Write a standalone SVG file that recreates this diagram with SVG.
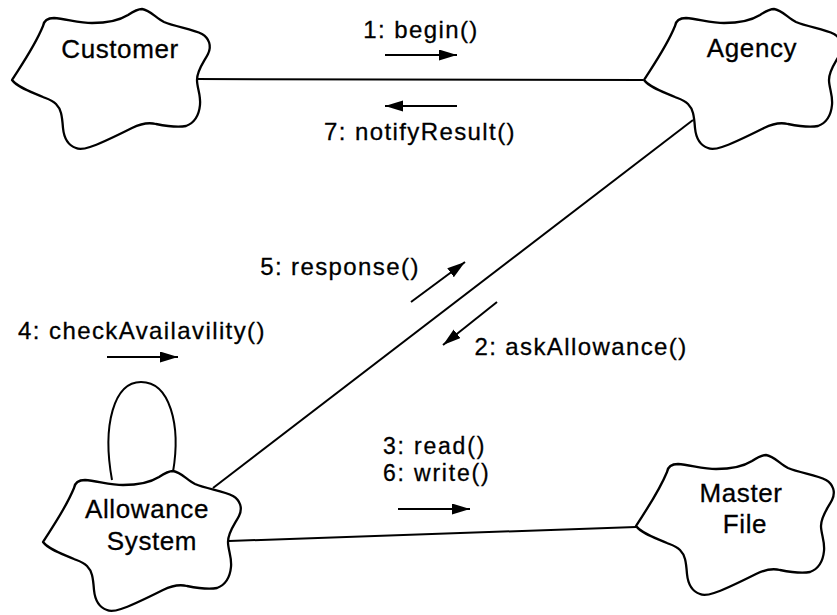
<svg xmlns="http://www.w3.org/2000/svg" xmlns:xlink="http://www.w3.org/1999/xlink" width="837" height="615" viewBox="0 0 837 615">
  <style>
    .cloud { fill: #ffffff; stroke: #000000; stroke-width: 2.3; stroke-linejoin: round; }
    .link { fill: none; stroke: #000000; stroke-width: 2; }
    .msg { fill: none; stroke: #000000; stroke-width: 2; marker-end: url(#head); }
    .loop { fill: none; stroke: #000000; stroke-width: 2; }
    text { font-family: "Liberation Sans", Arial, Helvetica, sans-serif; fill: #000000; stroke: #000000; stroke-width: 0.3; }
    .name { font-size: 26px; letter-spacing: 0.6px; text-anchor: middle; }
    .label { font-size: 24px; letter-spacing: 1.4px; }
    .stack { font-size: 23px; letter-spacing: 1.8px; }
    .c { text-anchor: middle; }
  </style>
  <defs>
    <!-- wavy object outline, drawn at the Customer position -->
    <path id="cloudShape" d="M12,80 C18,70 34,48 43,26 C44,20 48,18 54,18 C66,19 80,23 92,23 C108,23 120,20 128,15 C134,11 138,9 142,9 C150,10 156,18 164,22 C176,27 192,29 202,34 C209,38 212,46 208,54 C204,62 197,70 197,80 C197,88 201,95 200,105 C199,115 194,123 186,126 C176,128 166,126 156,124 C148,122 140,124 132,128 C118,135 100,144 90,147 C84,149 80,150 76,148 C67,145 64,138 63,128 C62,115 61,109 56,104 C52,100 48,99 43,97 C32,92 18,88 12,80 Z"/>
    <marker id="head" markerUnits="userSpaceOnUse" markerWidth="20" markerHeight="12" refX="18" refY="5.5" orient="auto">
      <path d="M0,0 L18,5.5 L0,11 Z" fill="#000000"/>
    </marker>
  </defs>

  <!-- associations between objects -->
  <g id="connectors">
    <line class="link" x1="197" y1="79" x2="643" y2="80"/>
    <line class="link" x1="693" y1="120" x2="213" y2="488"/>
    <line class="link" x1="229" y1="541" x2="636" y2="527"/>
    <path class="loop" d="M112,480 C102,425 114,382 141,382 C170,382 181,425 173,472"/>

    <!-- message direction arrows -->
    <line class="msg" x1="385" y1="55" x2="457" y2="55"/>
    <line class="msg" x1="457" y1="106" x2="385" y2="106"/>
    <line class="msg" x1="411" y1="302" x2="465" y2="262"/>
    <line class="msg" x1="497" y1="302" x2="443" y2="345"/>
    <line class="msg" x1="107" y1="357" x2="178" y2="357"/>
    <line class="msg" x1="398" y1="509" x2="470" y2="509"/>

    <!-- message labels -->
    <text class="label c" x="421" y="38">1: begin()</text>
    <text class="label c" x="420" y="140">7: notifyResult()</text>
    <text class="label c" x="340" y="275">5: response()</text>
    <text class="label c" x="581" y="355">2: askAllowance()</text>
    <text class="label c" x="142" y="339">4: checkAvailavility()</text>
    <text class="stack"><tspan x="383" y="454">3: read()</tspan><tspan x="383" y="481">6: write()</tspan></text>
  </g>

  <g id="customer">
    <use xlink:href="#cloudShape" class="cloud"/>
    <text class="name" x="120" y="58">Customer</text>
  </g>

  <g id="agency">
    <use xlink:href="#cloudShape" class="cloud" transform="translate(632,0)"/>
    <text class="name" x="752" y="57">Agency</text>
  </g>

  <g id="allowance-system">
    <use xlink:href="#cloudShape" class="cloud" transform="translate(31,462)"/>
    <text class="name"><tspan x="147" y="518">Allowance</tspan><tspan x="152" y="550">System</tspan></text>
  </g>

  <g id="master-file">
    <use xlink:href="#cloudShape" class="cloud" transform="translate(624,446)"/>
    <text class="name"><tspan x="741" y="502">Master</tspan><tspan x="745" y="533">File</tspan></text>
  </g>
</svg>
